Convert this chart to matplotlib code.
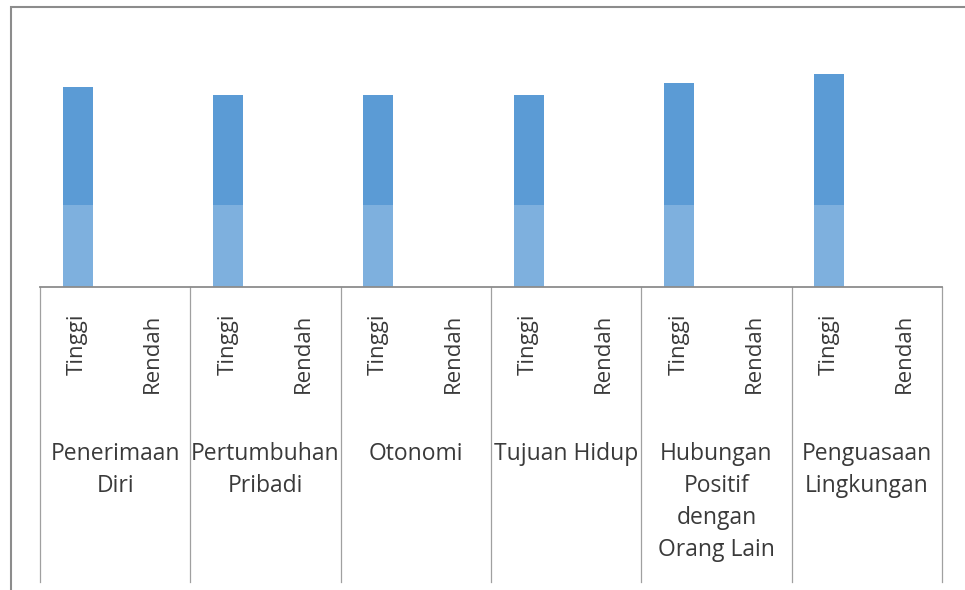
import numpy as np
import matplotlib
matplotlib.use("Agg")
from matplotlib import pyplot as plt
from matplotlib.patches import Rectangle
from matplotlib.transforms import blended_transform_factory

# dimensi psychological well-being, tiap dimensi punya kategori Tinggi / Rendah
groups = ["Penerimaan\nDiri", "Pertumbuhan\nPribadi", "Otonomi", "Tujuan Hidup",
          "Hubungan\nPositif\ndengan\nOrang Lain", "Penguasaan\nLingkungan"]
levels = ["Tinggi", "Rendah"]
tinggi = [47, 45, 45, 45, 48, 50]
rendah = [0, 0, 0, 0, 0, 0]

plt.rcParams['font.family'] = ['Open Sans', 'DejaVu Sans']
textColor = '#3a3a3a'
barColor = '#5b9bd5'

fig = plt.figure(figsize=(9.65, 5.9), dpi=100)
W, H = 965.0, 590.0
ax = fig.add_axes([40 / W, (H - 287) / H, 902 / W, 255.6 / H])
ax.set_facecolor('none')

values = []
labels = []
for t, r in zip(tinggi, rendah):
    values += [t, r]
    labels += levels
x = np.arange(len(values))
ax.bar(x, values, width=0.4, color=barColor, zorder=1)
ax.set_xlim(-0.5, len(values) - 0.5)
ax.set_ylim(0, 60)

ax.set_yticks([])
ax.set_xticks(x, labels, rotation=90, fontsize=16, color=textColor)
ax.tick_params(axis='x', length=0, pad=19)
for s in ['left', 'right', 'top']:
    ax.spines[s].set_visible(False)
ax.spines['bottom'].set_color('#8c8c8c')
ax.spines['bottom'].set_linewidth(1.3)

# garis pemisah antar dimensi + nama dimensi
trans = blended_transform_factory(ax.transData, ax.transAxes)
for i in range(len(groups) + 1):
    ax.plot([2 * i - 0.5, 2 * i - 0.5], [0, -1.154], transform=trans,
            color='#a0a0a0', lw=0.9, clip_on=False)
for i, g in enumerate(groups):
    ax.text(2 * i + 0.5, -0.605, g, transform=trans, ha='center', va='top',
            fontsize=16.5, color=textColor, linespacing=1.45)

# bagian bawah batang lebih pucat (efek watermark hasil scan)
ax.add_patch(Rectangle((0, 0), 1, (287 - 205) / 255.6, transform=ax.transAxes,
                       facecolor='white', alpha=0.22, edgecolor='none', zorder=2))

# bingkai chart
fig.add_artist(Rectangle((10.5 / W, -0.1), 1.0, (H - 7.5) / H + 0.1,
                         transform=fig.transFigure, fill=False,
                         edgecolor='#8c8c8c', lw=1.5))

fig.savefig("out.png", dpi=100)
